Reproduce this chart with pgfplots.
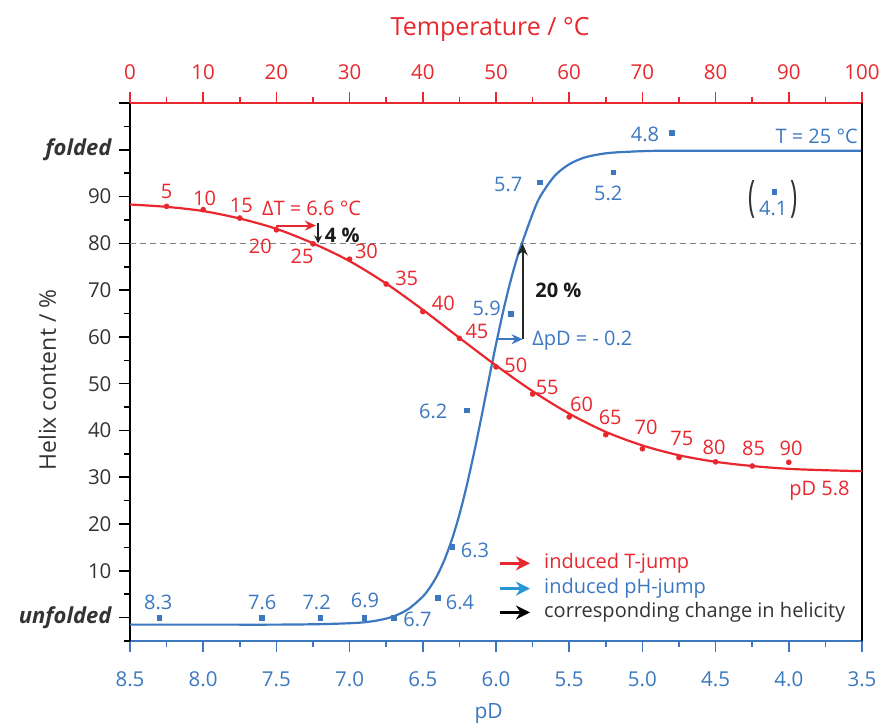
\documentclass[border=0pt]{standalone}
\usepackage{pgfplots}
\pgfplotsset{compat=1.18}
\usepackage{graphicx}
\usepackage{fontspec}
\setmainfont{Open Sans}
\usetikzlibrary{arrows.meta}
\definecolor{tred}{RGB}{232,40,46}
\definecolor{pblue}{RGB}{60,120,192}
\definecolor{lblue}{RGB}{38,150,215}
\definecolor{dgray}{RGB}{51,51,51}
\newcommand{\fs}[1]{\fontsize{#1}{#1}\selectfont}
\begin{document}
\begin{tikzpicture}[lbl/.style={font=\fs{20bp}, inner sep=0pt}]
\begin{axis}[
  scale only axis, width=732bp, height=538bp,
  xmin=3.5, xmax=8.5, x dir=reverse,
  ymin=-5, ymax=110,
  axis x line*=bottom, axis y line*=left,
  x axis line style={draw=pblue, line width=1.8bp, -},
  y axis line style={draw=black, line width=2bp, -},
  tick align=outside,
  major tick length=11bp, minor tick length=6bp,
  xtick={3.5,4,...,8.5}, minor xtick={3.75,4.25,...,8.25},
  xtick pos=lower, ytick pos=left, xticklabel pos=lower,
  xtick style={draw=pblue, line width=1.6bp},
  ytick style={draw=black, line width=1.6bp},
  ytick={0,10,...,110},
  yticklabels={{\fs{22bp}\bfseries\itshape unfolded},10,20,30,40,50,60,70,80,90,{\fs{22bp}\bfseries\itshape folded},{}},
  minor ytick={-5,5,...,105},
  /pgf/number format/assume math mode=true,
  /pgf/number format/fixed, /pgf/number format/fixed zerofill, /pgf/number format/precision=1,
  xticklabel style={pblue, font=\fs{20.5bp}, yshift=-16bp},
  yticklabel style={dgray, font=\fs{20.5bp}, xshift=-4bp},
  xlabel={pD},
  xlabel style={pblue, font=\fs{21bp}, at={(axis description cs:0.49,-0.135)}, anchor=center},
  ylabel={Helix content / \%},
  ylabel style={dgray, font=\fs{23bp}, at={(axis description cs:-0.113,0.485)}, anchor=center},
  clip=false,
]
% dashed 80 % line
\addplot[gray, dashed, line width=0.9bp, dash pattern=on 6bp off 4bp] coordinates {(8.5,80) (3.5,80)};
% blue fit
\addplot[pblue, line width=2.2bp, smooth] coordinates {
(8.5,-1.5) (8.0,-1.5) (7.5,-1.5) (7.2,-1.4) (7.0,-1.2) (6.9,-1.0) (6.8,-0.55) (6.7,0.26)
(6.6,1.8) (6.5,4.5) (6.45,6.5) (6.4,9.1) (6.35,12.5) (6.3,16.8) (6.25,22.0) (6.2,28.2)
(6.15,35.2) (6.1,42.8) (6.05,50.7) (6.0,58.4) (5.95,65.6) (5.9,72.0) (5.85,77.5) (5.8,82.0)
(5.75,86.3) (5.7,89.9) (5.6,94.4) (5.5,96.9) (5.4,98.3) (5.3,99.0) (5.2,99.4) (5.0,99.7)
(4.8,99.8) (4.0,99.8) (3.5,99.8)};
% blue data
\addplot[only marks, mark=square*, mark size=2.3bp, pblue] coordinates {
(8.3,0) (7.6,0) (7.2,0) (6.9,0) (6.7,0) (6.4,4.3) (6.3,15.1) (6.2,44.3)
(5.9,65.0) (5.7,93.1) (5.2,95.2) (4.8,103.6) (4.1,91.1)};
% blue labels
\begin{scope}[every node/.style={lbl, text=pblue}]
\node at (axis cs:8.307,3.3) {8.3};
\node at (axis cs:7.596,3.3) {7.6};
\node at (axis cs:7.225,3.3) {7.2};
\node at (axis cs:6.895,3.6) {6.9};
\node at (axis cs:6.536,-0.3) {6.7};
\node at (axis cs:6.246,3.3) {6.4};
\node at (axis cs:6.143,14.3) {6.3};
\node at (axis cs:6.428,44.0) {6.2};
\node at (axis cs:6.064,66.1) {5.9};
\node at (axis cs:5.916,92.5) {5.7};
\node at (axis cs:5.233,90.7) {5.2};
\node at (axis cs:4.982,103.2) {4.8};
\node at (axis cs:4.106,87.5) {4.1};
\node at (axis cs:3.81,102.8) {T = 25 °C};
\node at (axis cs:5.41,59.3) {ΔpD = - 0.2};
\end{scope}
\node[inner sep=0pt, text=dgray, font=\fs{30bp}] at (axis cs:4.252,89.4) {\scalebox{0.8}[1.45]{(}};
\node[inner sep=0pt, text=dgray, font=\fs{30bp}] at (axis cs:3.962,89.4) {\scalebox{0.8}[1.45]{)}};
% pD jump arrows
\draw[pblue, line width=2bp, -{Stealth[length=11bp, width=10bp]}] (axis cs:5.996,59.5) -- (axis cs:5.818,59.5);
\draw[black!85, line width=2bp, -{Stealth[length=12bp, width=10bp]}] (axis cs:5.818,59.5) -- (axis cs:5.818,80);
\node[lbl, text=black!90, font=\fs{20bp}\bfseries] at (axis cs:5.574,70.0) {20 \%};
% legend
\draw[tred, line width=3bp, -{Stealth[length=14bp, width=14bp]}] (axis cs:5.973,11.6) -- (axis cs:5.768,11.6);
\draw[lblue, line width=3bp, -{Stealth[length=14bp, width=14bp]}] (axis cs:5.973,6.2) -- (axis cs:5.768,6.2);
\draw[black, line width=3bp, -{Stealth[length=14bp, width=14bp]}] (axis cs:5.973,1.1) -- (axis cs:5.768,1.1);
\node[lbl, anchor=west, text=tred] at (axis cs:5.672,11.6) {induced T-jump};
\node[lbl, anchor=west, text=pblue] at (axis cs:5.672,6.2) {induced pH-jump};
\node[lbl, anchor=west, text=dgray] at (axis cs:5.672,1.1) {corresponding change in helicity};
\end{axis}
\begin{axis}[
  scale only axis, width=732bp, height=538bp,
  xmin=0, xmax=100, ymin=-5, ymax=110,
  axis x line*=top, axis y line*=right,
  x axis line style={draw=tred, line width=1.8bp, -},
  y axis line style={draw=black, line width=1.6bp, -},
  ytick=\empty,
  tick align=outside,
  major tick length=11bp, minor tick length=6bp,
  xtick={0,10,...,100}, minor xtick={5,15,...,95},
  xtick pos=upper, xticklabel pos=upper,
  xtick style={draw=tred, line width=1.6bp},
  /pgf/number format/assume math mode=true,
  xticklabel style={tred, font=\fs{20.5bp}, yshift=9bp},
  xlabel={Temperature / °C},
  xlabel style={tred, font=\fs{25bp}, at={(axis description cs:0.492,1.136)}, anchor=center},
  clip=false,
]
% red fit
\addplot[tred, line width=2.2bp, smooth] coordinates {
(0,88.3) (5,87.8) (10,86.9) (15,85.3) (20,83.1) (25,80.0) (30,76.2) (35,71.4) (40,65.8)
(45,59.8) (50,53.9) (55,48.4) (60,43.6) (65,39.7) (70,36.8) (75,34.7) (80,33.3) (85,32.4)
(90,31.8) (95,31.5) (100,31.3)};
% red data
\addplot[only marks, mark=*, mark size=2.6bp, tred] coordinates {
(5,87.9) (10,87.2) (15,85.4) (20,82.9) (25,79.9) (30,76.6) (35,71.3) (40,65.4) (45,59.7)
(50,53.6) (55,47.8) (60,42.9) (65,39.1) (70,36.1) (75,34.2) (80,33.3) (85,32.4) (90,33.2)};
\begin{scope}[every node/.style={lbl, text=tred}]
\node at (axis cs:5.0,91.1) {5};
\node at (axis cs:10.2,89.7) {10};
\node at (axis cs:15.2,88.2) {15};
\node at (axis cs:17.8,79.4) {20};
\node at (axis cs:23.5,77.2) {25};
\node at (axis cs:32.3,78.2) {30};
\node at (axis cs:37.8,72.5) {35};
\node at (axis cs:42.8,67.2) {40};
\node at (axis cs:47.4,61.1) {45};
\node at (axis cs:52.7,54.0) {50};
\node at (axis cs:57.0,49.3) {55};
\node at (axis cs:61.7,45.6) {60};
\node at (axis cs:65.6,42.7) {65};
\node at (axis cs:70.5,40.6) {70};
\node at (axis cs:75.4,38.4) {75};
\node at (axis cs:79.8,36.5) {80};
\node at (axis cs:85.2,36.1) {85};
\node at (axis cs:90.3,36.1) {90};
\node at (axis cs:94.2,27.2) {pD 5.8};
\node at (axis cs:24.8,87.4) {ΔT = 6.6 °C};
\end{scope}
\draw[tred, line width=2bp, -{Stealth[length=11bp, width=10bp]}] (axis cs:20.0,83.8) -- (axis cs:25.4,83.8);
\draw[black!85, line width=2bp, -{Stealth[length=8bp, width=8bp]}] (axis cs:25.7,84.3) -- (axis cs:25.7,80);
\node[lbl, text=black!90, font=\fs{20bp}\bfseries] at (axis cs:29.0,81.8) {4 \%};
\end{axis}
\pgfresetboundingbox
\path[use as bounding box] (-130bp,-83bp) rectangle (751bp,641bp);
\end{tikzpicture}
\end{document}
